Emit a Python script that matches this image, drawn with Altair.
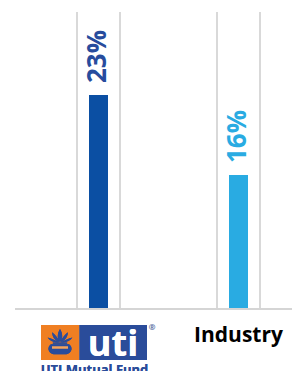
import altair as alt
import pandas as pd

# ---- data ----
categories = ["UTI Mutual Fund", "Industry"]
values = [23, 16]
value_labels = ["23%", "16%"]

bar_colors = ["#0b4fa3", "#29abe2"]
text_colors = ["#274c9d", "#29abe2"]

df = pd.DataFrame({"category": categories, "value": values, "label": value_labels})

W, H = 284, 296
x_scale = alt.Scale(domain=categories, range=[20.5, 300.5], paddingInner=0, paddingOuter=0)
y_scale = alt.Scale(domain=[4.3625, 30.2625], zero=False, clamp=True, nice=False)

base = alt.Chart(df)

x_axis = alt.Axis(
    title=None, domain=False, ticks=False, tickSize=0, grid=False,
    labelExpr="datum.label == 'Industry' ? datum.label : ''",
    labelFont="Open Sans", labelFontSize=21, labelFontWeight="bold",
    labelColor="#000000", labelPadding=16, labelAngle=0,
)

# band frame lines (left and right edges of each category band)
frame_left = base.mark_rule(color="#d9d9d9", strokeWidth=2).encode(
    x=alt.X("category:N", scale=x_scale, axis=x_axis, bandPosition=0.3464),
    y=alt.value(0), y2=alt.value(297),
)
frame_right = base.mark_rule(color="#d9d9d9", strokeWidth=2).encode(
    x=alt.X("category:N", scale=x_scale, bandPosition=0.6536),
    y=alt.value(0), y2=alt.value(297),
)

baseline = base.mark_rule(color="#d5d5d5", strokeWidth=2).encode(
    x=alt.value(7), x2=alt.value(284), y=alt.value(297)
)

bars = base.mark_bar(size=19).encode(
    x=alt.X("category:N", scale=x_scale),
    y=alt.Y("value:Q", scale=y_scale, axis=None),
    color=alt.Color("category:N", scale=alt.Scale(domain=categories, range=bar_colors), legend=None),
)

labels = base.mark_text(
    angle=270, align="left", baseline="middle", dx=12, dy=-1,
    font="Open Sans", fontSize=26, fontWeight="bold",
).encode(
    x=alt.X("category:N", scale=x_scale),
    y=alt.Y("value:Q", scale=y_scale),
    text="label:N",
    color=alt.Color("category:N", scale=alt.Scale(domain=categories, range=text_colors), legend=None),
)

# ---- UTI logo (drawn from simple shapes + real text) ----
logo_blue = "#2a4c9a"
orange_box = base.mark_rect(color="#f07f22").encode(
    x=alt.value(33), x2=alt.value(71.5), y=alt.value(313), y2=alt.value(348)
)
blue_box = base.mark_rect(color=logo_blue).encode(
    x=alt.value(71.5), x2=alt.value(139), y=alt.value(313), y2=alt.value(348)
)
emblem_path = (
    "M0,-1 C0.25,-0.6 0.2,-0.2 0,0 C-0.2,-0.2 -0.25,-0.6 0,-1 Z "
    "M-0.6,-0.75 C-0.3,-0.5 -0.1,-0.2 -0.05,0 C-0.4,-0.1 -0.6,-0.4 -0.6,-0.75 Z "
    "M0.6,-0.75 C0.3,-0.5 0.1,-0.2 0.05,0 C0.4,-0.1 0.6,-0.4 0.6,-0.75 Z "
    "M-0.95,-0.35 C-0.6,-0.25 -0.3,-0.1 -0.1,0.02 C-0.5,0.05 -0.8,-0.1 -0.95,-0.35 Z "
    "M0.95,-0.35 C0.6,-0.25 0.3,-0.1 0.1,0.02 C0.5,0.05 0.8,-0.1 0.95,-0.35 Z "
    "M-0.55,0.04 L0.55,0.04 L0.55,0.13 L-0.55,0.13 Z "
    "M-0.7,0.17 L0.7,0.17 C1.0,0.4 0.95,0.8 0.5,0.95 L-0.5,0.95 C-0.95,0.8 -1.0,0.4 -0.7,0.17 Z"
)
emblem = base.mark_point(
    shape=emblem_path, filled=True, opacity=1, size=676, color=logo_blue, strokeWidth=0
).encode(x=alt.value(52), y=alt.value(330))
emblem_band = base.mark_rect(color="#f3a35c").encode(
    x=alt.value(44), x2=alt.value(60), y=alt.value(334.5), y2=alt.value(336.5)
)
uti_word = base.mark_text(
    text="uti", font="Open Sans", fontSize=36, fontWeight="bold", color="#ffffff",
    align="center", baseline="alphabetic",
).encode(x=alt.value(105), y=alt.value(344))
reg_mark = base.mark_text(
    text="®", font="Open Sans", fontSize=8, color="#6f7fae", align="center", baseline="middle"
).encode(x=alt.value(144), y=alt.value(316))
uti_name = base.mark_text(
    text="UTI Mutual Fund", font="Open Sans", fontSize=13, fontWeight="bold", color=logo_blue,
    align="center", baseline="top",
).encode(x=alt.value(86.5), y=alt.value(352))

chart = alt.layer(
    frame_left, frame_right, baseline, bars, labels,
    orange_box, blue_box, emblem, emblem_band, uti_word, reg_mark, uti_name,
).resolve_scale(color="independent").properties(
    width=W, height=H,
    autosize=alt.AutoSizeParams(type="none"),
    padding={"left": 0, "right": 0, "top": 4, "bottom": 63},
    background="#ffffff",
).configure_view(stroke=None)

chart.save("out.html", embed_options={"renderer": "svg", "actions": False})
